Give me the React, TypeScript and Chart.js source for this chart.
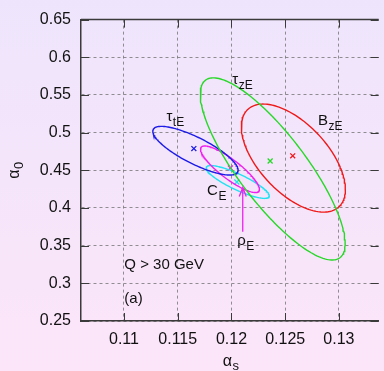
import React, { useEffect, useRef } from 'react';
import { Chart, registerables } from 'chart.js';

Chart.register(...registerables);

// ---- data ----
const xTicks = [0.11, 0.115, 0.12, 0.125, 0.13];
const yTicks = [0.25, 0.3, 0.35, 0.4, 0.45, 0.5, 0.55, 0.6, 0.65];

const fitNames = ['τ', 'τ', 'B', 'ρ', 'C'];
const fitSubs = ['tE', 'zE', 'zE', 'E', 'E'];
const fitColors = ['#1c1ce6', '#28d828', '#ee1a1a', '#ee22ee', '#22e2f2'];

// best-fit points (crosses)
const fitX = [0.1165, 0.1236, 0.1257, 0.1199, 0.1205];
const fitY = [0.4788, 0.4623, 0.4692, 0.4531, 0.4345];

// error-ellipse parameters: centre, half-extent in x and y, correlation
const ellCx = [0.11665, 0.12384, 0.12576, 0.11986, 0.12058];
const ellCy = [0.4760, 0.4518, 0.4662, 0.4514, 0.4345];
const ellSx = [0.00397, 0.00674, 0.00484, 0.00274, 0.00294];
const ellSy = [0.0323, 0.1209, 0.0717, 0.0309, 0.0218];
const ellRho = [-0.80, -0.82, -0.58, -0.86, -0.85];

// label anchors (data units): left edge, baseline
const labelX = [0.11395, 0.12007, 0.12805, 0.12053, 0.11773];
const labelY = [0.5151, 0.5640, 0.5105, 0.3514, 0.4166];

const noteText = ['Q > 30 GeV', '(a)'];
const noteX = [0.11003, 0.11003];
const noteY = [0.3188, 0.2745];

// arrow for rho_E: x, from y, to y
const arrowX = 0.12105;
const arrowFromY = 0.3684;
const arrowToY = 0.4271;

const FONT = '"Liberation Sans", Arial, Helvetica, sans-serif';

function ellipsePoints(i: number) {
  const pts: { x: number; y: number }[] = [];
  const n = 180;
  const r = ellRho[i];
  const q = Math.sqrt(1 - r * r);
  for (let k = 0; k <= n; k++) {
    const t = (2 * Math.PI * k) / n;
    pts.push({
      x: ellCx[i] + ellSx[i] * Math.cos(t),
      y: ellCy[i] + ellSy[i] * (r * Math.cos(t) + q * Math.sin(t)),
    });
  }
  return pts;
}

function drawSub(
  ctx: CanvasRenderingContext2D,
  main: string,
  sub: string,
  x: number,
  y: number,
  mainSize: number,
  subSize: number,
  subDy: number,
  color: string
) {
  ctx.fillStyle = color;
  ctx.textBaseline = 'alphabetic';
  ctx.textAlign = 'left';
  ctx.font = `${mainSize}px ${FONT}`;
  ctx.fillText(main, x, y);
  const w = ctx.measureText(main).width;
  ctx.font = `${subSize}px ${FONT}`;
  ctx.fillText(sub, x + w + 0.5, y + subDy);
}

function subWidth(ctx: CanvasRenderingContext2D, main: string, sub: string, mainSize: number, subSize: number) {
  ctx.font = `${mainSize}px ${FONT}`;
  const w1 = ctx.measureText(main).width;
  ctx.font = `${subSize}px ${FONT}`;
  const w2 = ctx.measureText(sub).width;
  return w1 + 0.5 + w2;
}

const annotPlugin = {
  id: 'annot',
  afterDatasetsDraw(chart: any) {
    const ctx: CanvasRenderingContext2D = chart.ctx;
    const xs = chart.scales.x;
    const ys = chart.scales.y;
    const area = chart.chartArea;
    ctx.save();

    // top border + inward ticks (gnuplot style)
    ctx.strokeStyle = '#3a3a3a';
    ctx.lineWidth = 1.5;
    ctx.beginPath();
    ctx.moveTo(area.left, area.top);
    ctx.lineTo(area.right, area.top);
    ctx.stroke();
    ctx.lineWidth = 1;
    ctx.beginPath();
    xTicks.forEach((v) => {
      const px = Math.round(xs.getPixelForValue(v)) + 0.5;
      ctx.moveTo(px, area.bottom);
      ctx.lineTo(px, area.bottom - 8);
      ctx.moveTo(px, area.top);
      ctx.lineTo(px, area.top + 8);
    });
    yTicks.forEach((v) => {
      const py = Math.round(ys.getPixelForValue(v)) + 0.5;
      ctx.moveTo(area.left, py);
      ctx.lineTo(area.left + 8, py);
      ctx.moveTo(area.right, py);
      ctx.lineTo(area.right - 8, py);
    });
    ctx.stroke();

    // ellipse labels
    for (let i = 0; i < fitNames.length; i++) {
      drawSub(
        ctx,
        fitNames[i],
        fitSubs[i],
        xs.getPixelForValue(labelX[i]),
        ys.getPixelForValue(labelY[i]),
        15,
        12,
        5,
        '#111'
      );
    }

    // arrow to rho_E
    const ax = xs.getPixelForValue(arrowX);
    const ay0 = ys.getPixelForValue(arrowFromY);
    const ay1 = ys.getPixelForValue(arrowToY);
    ctx.strokeStyle = fitColors[3];
    ctx.lineWidth = 1.3;
    ctx.beginPath();
    ctx.moveTo(ax, ay0);
    ctx.lineTo(ax, ay1);
    ctx.moveTo(ax - 3.5, ay1 + 9);
    ctx.lineTo(ax, ay1);
    ctx.lineTo(ax + 3.5, ay1 + 9);
    ctx.stroke();

    // notes
    ctx.fillStyle = '#111';
    ctx.font = `15px ${FONT}`;
    ctx.textAlign = 'left';
    ctx.textBaseline = 'alphabetic';
    for (let i = 0; i < noteText.length; i++) {
      ctx.fillText(noteText[i], xs.getPixelForValue(noteX[i]), ys.getPixelForValue(noteY[i]));
    }

    // axis titles
    const cx = (area.left + area.right) / 2 + 1;
    const wx = subWidth(ctx, 'α', 's', 16, 13);
    drawSub(ctx, 'α', 's', cx - wx / 2, 366, 16, 13, 4, '#111');

    const cy = (area.top + area.bottom) / 2;
    const wy = subWidth(ctx, 'α', '0', 16, 13);
    ctx.translate(19, cy);
    ctx.rotate(-Math.PI / 2);
    drawSub(ctx, 'α', '0', -wy / 2, 0, 16, 13, 4, '#111');

    ctx.restore();
  },
};

export default function App() {
  const ref = useRef<HTMLCanvasElement | null>(null);

  useEffect(() => {
    document.body.style.margin = '0';
    const canvas = ref.current;
    if (!canvas) return;

    const datasets: any[] = [];
    const order = [1, 2, 0, 3, 4];
    order.forEach((i) => {
      datasets.push({
        label: fitNames[i] + fitSubs[i],
        data: ellipsePoints(i),
        showLine: true,
        borderColor: fitColors[i],
        backgroundColor: fitColors[i],
        borderWidth: 1.4,
        pointRadius: 0,
        tension: 0,
        fill: false,
      });
    });
    order.forEach((i) => {
      datasets.push({
        label: 'fit ' + fitNames[i] + fitSubs[i],
        data: [{ x: fitX[i], y: fitY[i] }],
        showLine: false,
        pointStyle: 'crossRot',
        pointRadius: 3.5,
        borderWidth: 1.3,
        borderColor: fitColors[i],
        backgroundColor: fitColors[i],
      });
    });

    const tickFont = { family: FONT, size: 16 };
    const fmt = (v: any) => String(Number(Number(v).toFixed(3)));

    const chart = new Chart(canvas, {
      type: 'scatter',
      data: { datasets },
      options: {
        animation: false,
        responsive: false,
        devicePixelRatio: 1,
        layout: { padding: { top: 14, right: 0, left: 0, bottom: 0 } },
        plugins: {
          legend: { display: false },
          tooltip: { enabled: false },
          title: { display: false },
        },
        scales: {
          x: {
            type: 'linear',
            min: 0.106,
            max: 0.1337,
            afterBuildTicks: (s: any) => {
              s.ticks = xTicks.map((v) => ({ value: v }));
            },
            afterFit: (s: any) => {
              s.height = 50;
            },
            ticks: { font: tickFont, color: '#111', padding: 9, callback: fmt, maxRotation: 0, autoSkip: false },
            grid: { color: 'rgba(110,110,110,0.75)', lineWidth: 1, drawTicks: false },
            border: { display: true, color: '#3a3a3a', width: 1.5, dash: [3, 3] },
          },
          y: {
            type: 'linear',
            min: 0.25,
            max: 0.65,
            afterBuildTicks: (s: any) => {
              s.ticks = yTicks.map((v) => ({ value: v }));
            },
            afterFit: (s: any) => {
              s.width = 81;
            },
            ticks: { font: tickFont, color: '#111', padding: 10, callback: fmt, autoSkip: false },
            grid: { color: 'rgba(110,110,110,0.75)', lineWidth: 1, drawTicks: false },
            border: { display: true, color: '#3a3a3a', width: 1.5, dash: [3, 3] },
          },
        },
      } as any,
      plugins: [annotPlugin as any],
    });

    return () => chart.destroy();
  }, []);

  return (
    <div
      style={{
        position: 'fixed',
        left: 0,
        top: 0,
        width: 384,
        height: 371,
        overflow: 'hidden',
        background: 'linear-gradient(to bottom, rgb(238,229,252), rgb(252,229,249))',
      }}
    >
      <canvas ref={ref} width={384} height={371} style={{ display: 'block', width: 384, height: 371 }} />
    </div>
  );
}
